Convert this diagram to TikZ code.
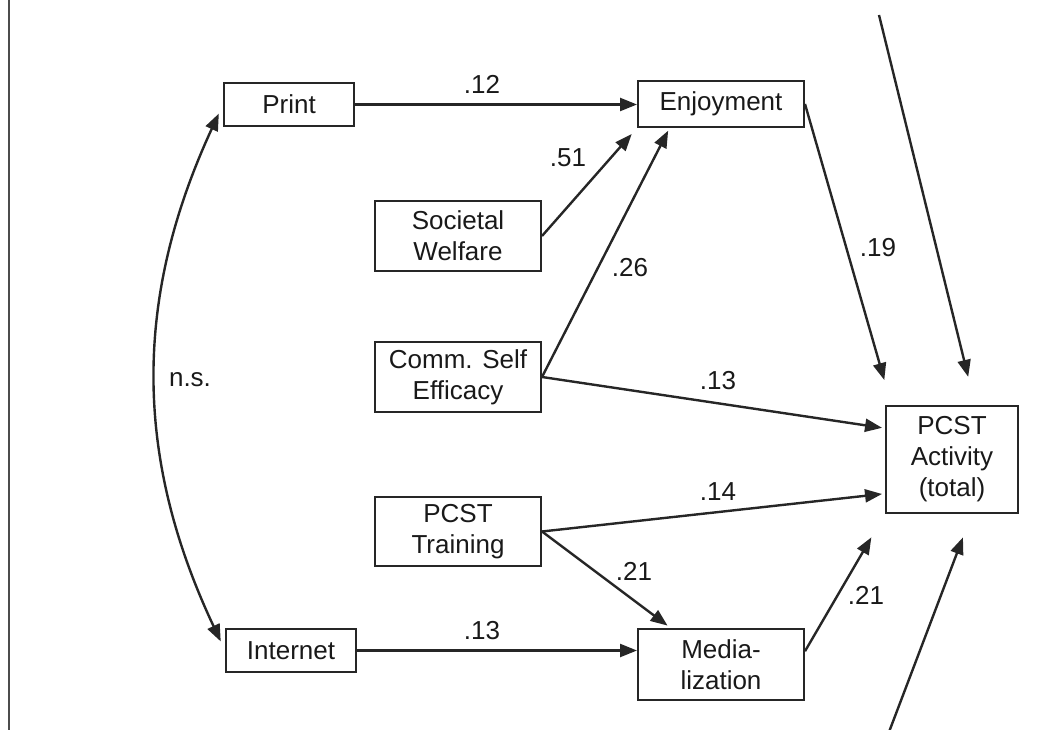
\documentclass[tikz,border=0pt]{standalone}
\usepackage{fontspec}
\setmainfont{Liberation Sans}
\usetikzlibrary{arrows.meta}

\begin{document}
\begin{tikzpicture}[x=1pt, y=-1pt, line width=2.4pt, color=black!85,
  every node/.style = {align=center, font=\fontsize{26}{31}\selectfont, text=black!90},
  var/.style = {shape=rectangle, draw, line width=2pt, inner sep=0pt},
  weight/.style = {},
  path/.style = {draw, -{Triangle[length=17pt, width=13pt]}}]
  \useasboundingbox (0,0) rectangle (1042,730);
  \draw[line width=2pt, black!70] (9,0) -- (9,730);

  % variables
  \node[var, minimum width=130, minimum height=43] (print) at (289,104.5) {Print};
  \node[var, minimum width=130, minimum height=43] (inet) at (291,650.5) {Internet};
  \node[var, minimum width=166, minimum height=46] (enj) at (721,104) {Enjoyment};
  \node[var, minimum width=166, minimum height=70] (welf) at (458,236) {Societal\\Welfare};
  \node[var, minimum width=166, minimum height=70] (eff) at (458,377) {Comm. Self\\Efficacy};
  \node[var, minimum width=166, minimum height=69] (train) at (458,531.5) {PCST\\Training};
  \node[var, minimum width=166, minimum height=71] (media) at (721,664.5) {Media-\\lization};
  \node[var, minimum width=132, minimum height=107] (act) at (952,459.5) {PCST\\Activity\\(total)};

  \coordinate (topin) at (879,15);
  \coordinate (botin) at (889,732);

  % paths
  \path[path] (print.east) -- (print.east -| enj.west);
  \path[path, shorten >=8pt] (welf.east) -- (enj.south west);
  \path[path, shorten >=3pt] (eff.east) -- (enj.205);
  \path[path, shorten >=3pt] (eff.east) -- (act.155);
  \path[path, shorten >=26pt] (enj.east) -- (act.138);
  \path[path, shorten >=29pt] (topin) -- (act.67);
  \path[path, shorten >=3pt] (train.east) -- (act.207);
  \path[path, shorten >=4pt] (train.east) -- (media.144);
  \path[path, shorten >=27pt] (media.9) -- (act.south west);
  \path[path, shorten >=25pt] (botin) -- (act.290);
  \path[path] (inet.east) -- (inet.east -| media.west);
  \draw[{Triangle[length=17pt, width=13pt]}-{Triangle[length=17pt, width=13pt]}, shorten <=10pt, shorten >=10pt]
    (print.west) to[bend right=25] (inet.west);

  % weights
  \node[weight] (w1) at (482,84) {.12};
  \node[weight] (w2) at (568,158) {.51};
  \node[weight] (w3) at (630,268) {.26};
  \node[weight] (w4) at (718,381) {.13};
  \node[weight] (w5) at (878,248) {.19};
  \node[weight] (w6) at (718,492) {.14};
  \node[weight] (w7) at (634,571) {.21};
  \node[weight] (w8) at (866,595) {.21};
  \node[weight] (w9) at (482,631) {.13};
  \node[weight] (ns) at (190,380) {n.s.};
\end{tikzpicture}
\end{document}
